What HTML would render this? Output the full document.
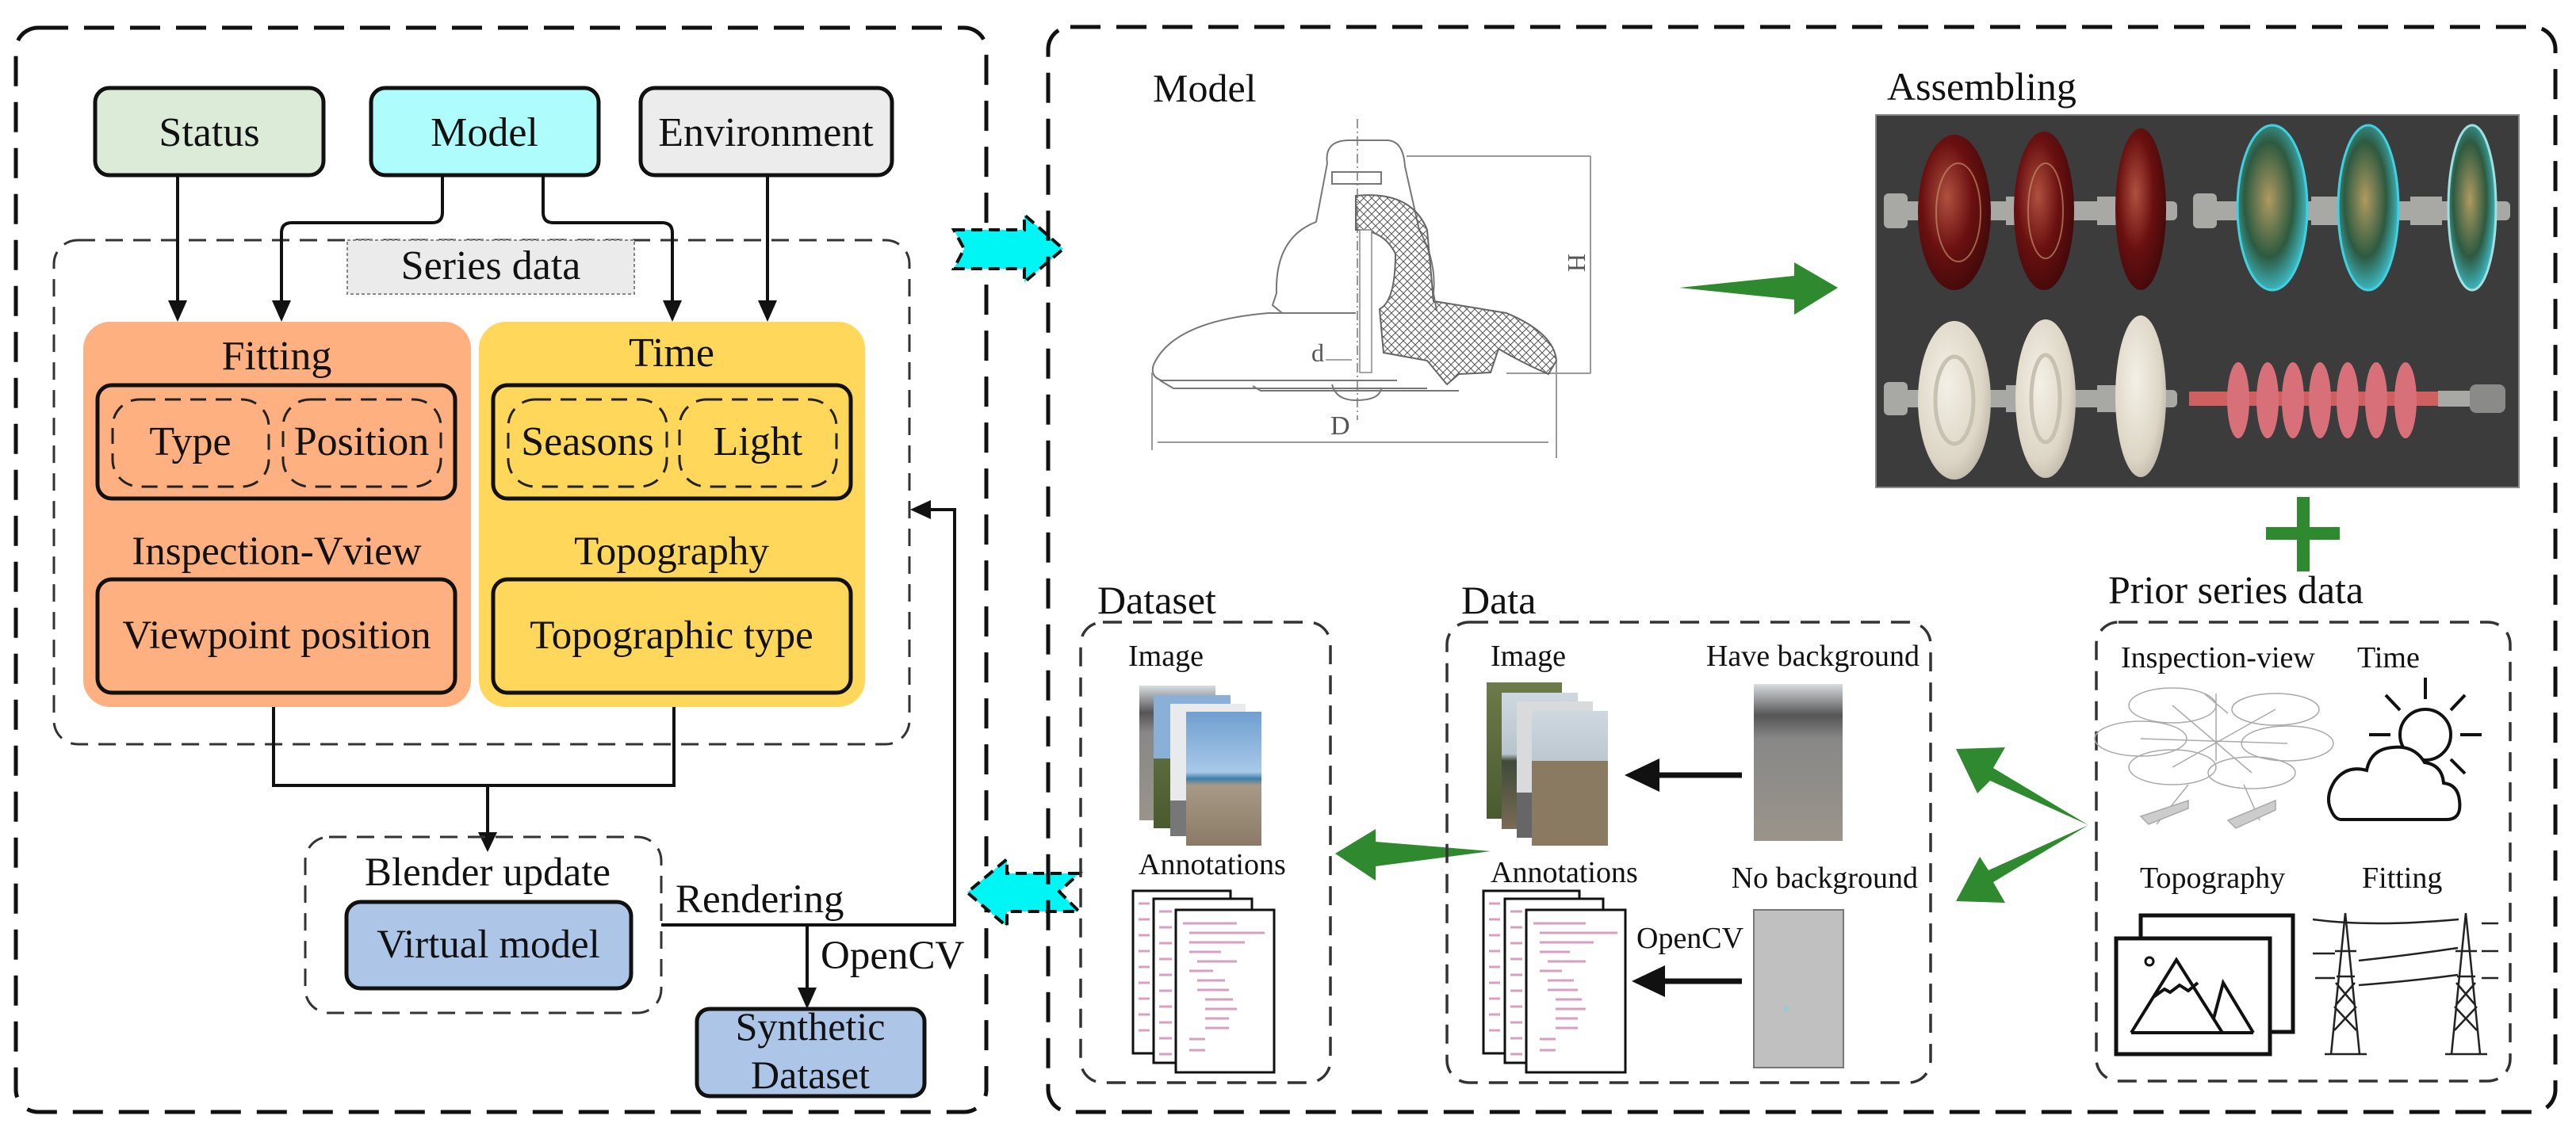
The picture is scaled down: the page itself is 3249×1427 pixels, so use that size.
<!DOCTYPE html>
<html><head><meta charset="utf-8"><style>
html,body{margin:0;padding:0;background:#fff}
svg{display:block}
svg text{font-family:"Liberation Serif","Times New Roman",Times,serif !important;fill:#111}
</style></head><body>
<svg width="3249" height="1427" viewBox="0 0 3249 1427" xmlns="http://www.w3.org/2000/svg" font-family="'Liberation Serif', 'Times New Roman', serif" style="font-family:'Liberation Serif','Times New Roman',serif">
<defs>
<linearGradient id="sky1" x1="0" y1="0" x2="0" y2="1"><stop offset="0" stop-color="#6f9fd0"/><stop offset="0.45" stop-color="#a8c8e8"/><stop offset="0.5" stop-color="#3b7fa8"/><stop offset="0.55" stop-color="#a89a86"/><stop offset="1" stop-color="#8a7a66"/></linearGradient>
<linearGradient id="sky2" x1="0" y1="0" x2="0" y2="1"><stop offset="0" stop-color="#cfd8e0"/><stop offset="0.45" stop-color="#b8c4cc"/><stop offset="0.5" stop-color="#3f4a3a"/><stop offset="1" stop-color="#7a6a55"/></linearGradient>
<linearGradient id="grass" x1="0" y1="0" x2="0" y2="1"><stop offset="0" stop-color="#6d7a4a"/><stop offset="1" stop-color="#4a5a30"/></linearGradient>
<linearGradient id="gravel" x1="0" y1="0" x2="0" y2="1"><stop offset="0" stop-color="#d8dde0"/><stop offset="0.2" stop-color="#555"/><stop offset="0.35" stop-color="#888"/><stop offset="1" stop-color="#9a948a"/></linearGradient>
<radialGradient id="red" cx="0.4" cy="0.4" r="0.7"><stop offset="0" stop-color="#b05040"/><stop offset="0.5" stop-color="#6a1010"/><stop offset="1" stop-color="#3a0808"/></radialGradient>
<radialGradient id="glass" cx="0.45" cy="0.45" r="0.7"><stop offset="0" stop-color="#b09a60"/><stop offset="0.5" stop-color="#2d5a40"/><stop offset="0.85" stop-color="#40c8d8"/><stop offset="1" stop-color="#205050"/></radialGradient>
<radialGradient id="white" cx="0.4" cy="0.4" r="0.7"><stop offset="0" stop-color="#f4f0e6"/><stop offset="0.7" stop-color="#ddd6c6"/><stop offset="1" stop-color="#b8b0a0"/></radialGradient>
<pattern id="hatch" width="10" height="10" patternUnits="userSpaceOnUse"><path d="M0,0 L10,10 M10,0 L0,10" stroke="#555" stroke-width="1"/></pattern>
</defs>

<!-- ============ LEFT PANEL ============ -->
<rect x="20" y="35" width="1224" height="1368" rx="28" fill="none" stroke="#111" stroke-width="5" stroke-dasharray="38 20"/>

<rect x="120" y="111" width="288" height="110" rx="18" fill="#dcebd8" stroke="#111" stroke-width="5"/>
<text x="264" y="184" font-size="52" text-anchor="middle">Status</text>
<rect x="468" y="111" width="287" height="110" rx="18" fill="#aefcfc" stroke="#111" stroke-width="5"/>
<text x="611" y="184" font-size="52" text-anchor="middle">Model</text>
<rect x="808" y="111" width="317" height="110" rx="18" fill="#ececec" stroke="#111" stroke-width="5"/>
<text x="966" y="184" font-size="52" text-anchor="middle">Environment</text>

<rect x="68" y="303" width="1079" height="636" rx="30" fill="none" stroke="#333" stroke-width="3" stroke-dasharray="22 13"/>
<rect x="438" y="303" width="362" height="68" fill="#ebebeb" stroke="#888" stroke-width="2" stroke-dasharray="4 3"/>
<text x="619" y="352" font-size="52" text-anchor="middle">Series data</text>

<g stroke="#111" stroke-width="4" fill="none">
<path d="M224,221 V385"/>
<path d="M558,221 V268 Q558,281 545,281 H368 Q355,281 355,294 V385"/>
<path d="M685,221 V268 Q685,281 698,281 H835 Q848,281 848,294 V385"/>
<path d="M968,221 V385"/>
</g>
<g fill="#111">
<polygon points="212,379 236,379 224,406"/>
<polygon points="343,379 367,379 355,406"/>
<polygon points="836,379 860,379 848,406"/>
<polygon points="956,379 980,379 968,406"/>
</g>

<rect x="105" y="406" width="489" height="486" rx="34" fill="#ffb080"/>
<text x="349" y="466" font-size="52" text-anchor="middle">Fitting</text>
<rect x="123" y="486" width="451" height="143" rx="18" fill="none" stroke="#111" stroke-width="5"/>
<rect x="142" y="504" width="197" height="110" rx="34" fill="none" stroke="#222" stroke-width="3" stroke-dasharray="20 12"/>
<rect x="357" y="504" width="199" height="110" rx="34" fill="none" stroke="#222" stroke-width="3" stroke-dasharray="20 12"/>
<text x="240" y="574" font-size="52" text-anchor="middle">Type</text>
<text x="456" y="574" font-size="52" text-anchor="middle">Position</text>
<text x="349" y="712" font-size="51" text-anchor="middle">Inspection-Vview</text>
<rect x="123" y="731" width="451" height="143" rx="18" fill="none" stroke="#111" stroke-width="5"/>
<text x="349" y="818" font-size="51" text-anchor="middle">Viewpoint position</text>

<rect x="604" y="406" width="487" height="486" rx="34" fill="#ffd75a"/>
<text x="847" y="462" font-size="52" text-anchor="middle">Time</text>
<rect x="622" y="486" width="451" height="143" rx="18" fill="none" stroke="#111" stroke-width="5"/>
<rect x="641" y="504" width="200" height="110" rx="34" fill="none" stroke="#222" stroke-width="3" stroke-dasharray="20 12"/>
<rect x="857" y="504" width="198" height="110" rx="34" fill="none" stroke="#222" stroke-width="3" stroke-dasharray="20 12"/>
<text x="741" y="574" font-size="52" text-anchor="middle">Seasons</text>
<text x="956" y="574" font-size="52" text-anchor="middle">Light</text>
<text x="847" y="712" font-size="51" text-anchor="middle">Topography</text>
<rect x="622" y="731" width="451" height="143" rx="18" fill="none" stroke="#111" stroke-width="5"/>
<text x="847" y="818" font-size="51" text-anchor="middle">Topographic type</text>

<path d="M345,892 V991 H850 V892" fill="none" stroke="#111" stroke-width="4"/>
<path d="M615,991 V1055" stroke="#111" stroke-width="4"/>
<polygon points="603,1050 627,1050 615,1075" fill="#111"/>

<rect x="385" y="1056" width="449" height="222" rx="30" fill="none" stroke="#333" stroke-width="3" stroke-dasharray="22 13"/>
<text x="615" y="1117" font-size="51" text-anchor="middle">Blender update</text>
<rect x="437" y="1138" width="359" height="109" rx="18" fill="#adc6e8" stroke="#111" stroke-width="5"/>
<text x="616" y="1208" font-size="51" text-anchor="middle">Virtual model</text>

<path d="M834,1167 H1204 V643 H1170" fill="none" stroke="#111" stroke-width="4"/>
<polygon points="1148,643 1174,631 1174,655" fill="#111"/>
<text x="852" y="1151" font-size="51">Rendering</text>
<path d="M1018,1167 V1250" stroke="#111" stroke-width="4"/>
<polygon points="1006,1246 1030,1246 1018,1273" fill="#111"/>
<text x="1035" y="1222" font-size="51">OpenCV</text>
<rect x="879" y="1273" width="287" height="110" rx="16" fill="#adc6e8" stroke="#111" stroke-width="5"/>
<text x="1022" y="1312" font-size="50" text-anchor="middle">Synthetic</text>
<text x="1022" y="1373" font-size="50" text-anchor="middle">Dataset</text>

<polygon points="1203,290 1292,290 1292,271 1341,314 1292,356 1292,339 1203,339 1216,314" fill="#00f5f5" stroke="#111" stroke-width="4" stroke-dasharray="14 8"/>
<polygon points="1361,1102 1270,1102 1270,1084 1220,1126 1270,1169 1270,1150 1361,1150 1336,1125" fill="#00f5f5" stroke="#111" stroke-width="4" stroke-dasharray="14 8"/>

<!-- ============ RIGHT PANEL ============ -->
<rect x="1322" y="34" width="1901" height="1369" rx="28" fill="none" stroke="#111" stroke-width="5" stroke-dasharray="38 20"/>

<text x="1454" y="128" font-size="50">Model</text>
<g fill="none" stroke="#777" stroke-width="2">
<path d="M1712,150 V530" stroke-dasharray="12 4 2 4" stroke="#999"/>
<path d="M1674,206 Q1670,178 1700,177 H1750 Q1770,178 1772,210 L1790,290 Q1812,330 1808,370 L1812,392"/>
<path d="M1674,206 L1660,280 Q1608,300 1610,370 L1605,385 L1617,395 H1710"/>
<path d="M1710,395 H1600 Q1480,405 1455,460 Q1450,475 1465,480 H1762"/>
<path d="M1463,480 L1480,490 H1800"/>
<path d="M1580,487 L1590,493 H1840"/>
<path d="M1680,485 Q1685,505 1710,505 Q1740,505 1742,490"/>
<path d="M1680,217 H1742 V232 H1680 Z"/>
<path d="M1774,197 H2006 M1900,471 H2006 M2006,197 V471" stroke="#999"/>
<path d="M1453,470 V568 M1963,455 V578 M1460,558 H1953" stroke="#999"/>
</g>
<path d="M1710,247 Q1780,240 1800,290 L1808,380 Q1840,385 1900,395 Q1960,420 1963,455 L1953,472 Q1920,458 1890,440 L1880,470 L1840,472 L1825,485 L1800,455 L1745,445 L1740,390 Q1760,380 1760,320 Q1745,290 1710,290 Z" fill="url(#hatch)" stroke="#666" stroke-width="2"/>
<path d="M1715,290 H1730 V470 H1715 Z" fill="#fff" stroke="#888" stroke-width="1.5"/>
<text x="1654" y="456" font-size="32" fill="#555" style="fill:#555">d</text>
<path d="M1672,454 H1705" stroke="#888" stroke-width="1.5"/>
<text x="1678" y="548" font-size="34" fill="#555" style="fill:#555">D</text>
<text x="1968" y="330" font-size="32" transform="rotate(90 1978 330)" style="fill:#555">H</text>

<polygon points="2118,363 2263,348 2263,331 2318,363 2263,397 2263,378" fill="#2f8a2f"/>

<text x="2380" y="126" font-size="50">Assembling</text>
<rect x="2366" y="145" width="811" height="470" fill="#3c3c3c" stroke="#888" stroke-width="2"/>
<g fill="#a8a8a4">
<rect x="2376" y="254" width="370" height="24" rx="6"/>
<rect x="2766" y="254" width="400" height="24" rx="6"/>
<rect x="2376" y="244" width="30" height="44" rx="6"/>
<rect x="2766" y="244" width="30" height="44" rx="6"/>
<rect x="2530" y="248" width="40" height="36"/><rect x="2645" y="248" width="40" height="36"/>
<rect x="2915" y="248" width="40" height="36"/><rect x="3040" y="248" width="40" height="36"/>
</g>
<ellipse cx="2465" cy="268" rx="46" ry="98" fill="url(#red)"/>
<ellipse cx="2578" cy="266" rx="38" ry="100" fill="url(#red)"/>
<ellipse cx="2700" cy="264" rx="32" ry="102" fill="url(#red)"/>
<ellipse cx="2866" cy="262" rx="44" ry="104" fill="url(#glass)" stroke="#40d0e0" stroke-width="3"/>
<ellipse cx="2987" cy="262" rx="38" ry="104" fill="url(#glass)" stroke="#40d0e0" stroke-width="3"/>
<ellipse cx="3118" cy="262" rx="30" ry="104" fill="url(#glass)" stroke="#a0e0e0" stroke-width="3"/>
<g fill="none" stroke="#c8a070" stroke-width="2" opacity="0.6">
<ellipse cx="2470" cy="268" rx="28" ry="62"/><ellipse cx="2580" cy="266" rx="22" ry="60"/>
</g>
<g fill="#a8a8a4">
<rect x="2376" y="492" width="370" height="22" rx="6"/>
<rect x="2376" y="482" width="30" height="42" rx="6"/>
<rect x="2530" y="486" width="40" height="34"/><rect x="2645" y="486" width="40" height="34"/>
<rect x="3075" y="493" width="40" height="20"/>
<rect x="3115" y="485" width="45" height="36" rx="8" fill="#8a8a88"/>
</g>
<ellipse cx="2465" cy="505" rx="46" ry="100" fill="url(#white)"/>
<ellipse cx="2465" cy="505" rx="24" ry="55" fill="none" stroke="#c8c0b0" stroke-width="5"/>
<ellipse cx="2580" cy="503" rx="38" ry="100" fill="url(#white)"/>
<ellipse cx="2580" cy="503" rx="18" ry="55" fill="none" stroke="#c8c0b0" stroke-width="5"/>
<ellipse cx="2700" cy="500" rx="32" ry="102" fill="url(#white)"/>
<rect x="2761" y="494" width="314" height="18" fill="#d06060"/>
<g fill="#d8707a">
<ellipse cx="2823" cy="505" rx="14" ry="48"/><ellipse cx="2860" cy="505" rx="14" ry="48"/>
<ellipse cx="2892" cy="505" rx="14" ry="48"/><ellipse cx="2926" cy="505" rx="14" ry="48"/>
<ellipse cx="2961" cy="505" rx="14" ry="48"/><ellipse cx="2997" cy="505" rx="14" ry="48"/>
<ellipse cx="3034" cy="505" rx="14" ry="48"/>
</g>

<rect x="2858" y="665" width="93" height="16" fill="#2f8a2f"/>
<rect x="2897" y="627" width="16" height="94" fill="#2f8a2f"/>

<text x="1384" y="774" font-size="50">Dataset</text>
<rect x="1363" y="785" width="315" height="581" rx="28" fill="none" stroke="#333" stroke-width="3.5" stroke-dasharray="24 14"/>
<text x="1423" y="840" font-size="38">Image</text>
<rect x="1437" y="865" width="96" height="170" fill="url(#gravel)"/>
<rect x="1455" y="877" width="97" height="168" fill="url(#grass)"/>
<rect x="1455" y="877" width="97" height="80" fill="#8ab0d8"/>
<rect x="1476" y="888" width="95" height="167" fill="#e8eaec"/>
<rect x="1476" y="1010" width="95" height="45" fill="#777"/>
<rect x="1496" y="898" width="95" height="169" fill="url(#sky1)"/>
<text x="1436" y="1103" font-size="38">Annotations</text>
<g stroke="#111" stroke-width="3" fill="#fff">
<rect x="1429" y="1124" width="123" height="205"/>
<rect x="1455" y="1134" width="124" height="207"/>
<rect x="1483" y="1148" width="124" height="205"/>
</g>
<g stroke="#d8a0c0" stroke-width="3">
<path d="M1492,1165 H1560 M1500,1177 H1595 M1500,1189 H1570 M1500,1201 H1540 M1510,1213 H1560 M1500,1225 H1530 M1510,1237 H1545 M1510,1249 H1550 M1520,1261 H1555 M1520,1273 H1560 M1520,1285 H1550 M1520,1297 H1550 M1500,1311 H1520 M1500,1325 H1520"/>
<path d="M1436,1140 H1450 M1436,1160 H1450 M1436,1180 H1450 M1436,1200 H1450 M1436,1220 H1450 M1436,1240 H1450 M1436,1260 H1450 M1436,1280 H1450 M1436,1300 H1450"/>
<path d="M1462,1150 H1478 M1462,1170 H1478 M1462,1190 H1478 M1462,1210 H1478 M1462,1230 H1478 M1462,1250 H1478 M1462,1270 H1478 M1462,1290 H1478 M1462,1310 H1478 M1462,1330 H1478"/>
</g>

<polygon points="1880,1074 1735,1062 1735,1046 1684,1077 1735,1111 1735,1093" fill="#2f8a2f"/>

<text x="1843" y="774" font-size="50">Data</text>
<rect x="1825" y="785" width="610" height="581" rx="28" fill="none" stroke="#333" stroke-width="3.5" stroke-dasharray="24 14"/>
<text x="1880" y="840" font-size="38">Image</text>
<rect x="1875" y="861" width="95" height="172" fill="url(#grass)"/>
<rect x="1894" y="874" width="96" height="172" fill="url(#sky2)"/>
<rect x="1913" y="885" width="96" height="172" fill="#d8dadc"/>
<rect x="1913" y="1000" width="96" height="57" fill="#666"/>
<rect x="1932" y="897" width="96" height="170" fill="url(#sky2)"/>
<rect x="1932" y="960" width="96" height="107" fill="#8a7a62"/>
<text x="2421" y="840" font-size="38" text-anchor="end">Have background</text>
<rect x="2212" y="863" width="112" height="198" fill="url(#gravel)"/>
<path d="M2197,978 H2080" stroke="#111" stroke-width="7"/>
<polygon points="2049,978 2093,957 2093,999" fill="#111"/>
<text x="1880" y="1113" font-size="38">Annotations</text>
<g stroke="#111" stroke-width="3" fill="#fff">
<rect x="1871" y="1124" width="121" height="205"/>
<rect x="1898" y="1134" width="124" height="207"/>
<rect x="1925" y="1148" width="125" height="205"/>
</g>
<g stroke="#d8a0c0" stroke-width="3">
<path d="M1934,1165 H2000 M1942,1177 H2040 M1942,1189 H2010 M1942,1201 H1980 M1952,1213 H2000 M1942,1225 H1970 M1952,1237 H1985 M1952,1249 H1990 M1962,1261 H1995 M1962,1273 H2000 M1962,1285 H1990 M1962,1297 H1990 M1942,1311 H1962 M1942,1325 H1962"/>
<path d="M1878,1140 H1892 M1878,1160 H1892 M1878,1180 H1892 M1878,1200 H1892 M1878,1220 H1892 M1878,1240 H1892 M1878,1260 H1892 M1878,1280 H1892 M1878,1300 H1892"/>
<path d="M1905,1150 H1920 M1905,1170 H1920 M1905,1190 H1920 M1905,1210 H1920 M1905,1230 H1920 M1905,1250 H1920 M1905,1270 H1920 M1905,1290 H1920 M1905,1310 H1920 M1905,1330 H1920"/>
</g>
<text x="2419" y="1120" font-size="38" text-anchor="end">No background</text>
<rect x="2212" y="1148" width="113" height="199" fill="#c0c0c0" stroke="#777" stroke-width="2"/>
<circle cx="2253" cy="1273" r="4" fill="#9cc"/>
<text x="2064" y="1196" font-size="38">OpenCV</text>
<path d="M2197,1238 H2090" stroke="#111" stroke-width="7"/>
<polygon points="2058,1238 2100,1218 2100,1258" fill="#111"/>

<polygon points="2634,1041 2510,985 2494,1001 2467,945 2529,943 2514,969" fill="#2f8a2f"/>
<polygon points="2634,1041 2514,1113 2529,1139 2467,1137 2497,1081 2508,1098" fill="#2f8a2f"/>

<text x="2659" y="761" font-size="50">Prior series data</text>
<rect x="2644" y="785" width="522" height="579" rx="28" fill="none" stroke="#333" stroke-width="3.5" stroke-dasharray="24 14"/>
<text x="2675" y="842" font-size="38">Inspection-view</text>
<text x="2973" y="842" font-size="38">Time</text>
<g fill="none" stroke="#aaa" stroke-width="1.5">
<ellipse cx="2740" cy="890" rx="55" ry="22"/><ellipse cx="2870" cy="895" rx="55" ry="20"/>
<ellipse cx="2700" cy="932" rx="58" ry="22"/><ellipse cx="2885" cy="938" rx="58" ry="22"/>
<ellipse cx="2740" cy="968" rx="55" ry="22"/><ellipse cx="2840" cy="975" rx="55" ry="20"/>
<path d="M2740,890 L2840,975 M2870,895 L2740,968 M2700,932 L2885,938"/>
<path d="M2795,875 V960 M2780,875 L2810,900 M2760,990 L2720,1040 M2830,990 L2850,1035"/>
<path d="M2700,1030 L2760,1010 L2760,1020 L2710,1040 Z M2810,1035 L2870,1010 L2870,1022 L2820,1045 Z" fill="#ccc"/>
</g>
<g fill="none" stroke="#111" stroke-width="4">
<circle cx="3059" cy="927" r="32"/>
<path d="M3059,855 V882 M3009,877 L3027,896 M3109,877 L3091,896 M2988,927 H3015 M3103,927 H3130 M3091,958 L3109,976"/>
</g>
<path d="M2953,1034 H3086 Q3105,1034 3102,1010 Q3100,990 3082,988 Q3080,965 3058,962 Q3045,940 3018,943 Q2990,945 2985,972 Q2960,965 2945,985 Q2932,1005 2940,1022 Q2945,1034 2953,1034 Z" fill="#fff" stroke="#111" stroke-width="4"/>
<text x="2699" y="1120" font-size="38">Topography</text>
<text x="2979" y="1120" font-size="38">Fitting</text>
<rect x="2700" y="1155" width="192" height="147" fill="#fff" stroke="#111" stroke-width="5"/>
<rect x="2669" y="1184" width="194" height="146" fill="#fff" stroke="#111" stroke-width="5"/>
<circle cx="2711" cy="1213" r="5" fill="none" stroke="#111" stroke-width="3"/>
<path d="M2688,1303 L2745,1211 L2803,1303 M2792,1285 L2804,1240 L2842,1303 M2688,1303 H2842 M2716,1258 L2730,1248 L2737,1252 L2749,1243 L2760,1250 L2772,1240" fill="none" stroke="#111" stroke-width="4"/>
<g fill="none" stroke="#222" stroke-width="2.5">
<path d="M2917,1160 Q2990,1170 3101,1160 M2917,1203 H2945 M2920,1234 H2945 M2975,1212 Q3040,1205 3100,1196 M2975,1243 Q3040,1238 3100,1230 M3130,1165 H3151 M3130,1200 H3151 M3130,1234 H3151"/>
<path d="M2958,1152 L2940,1330 M2958,1152 L2976,1330 M2932,1330 H2985 M2945,1200 H2972 M2947,1232 H2970 M2944,1270 L2972,1300 M2972,1270 L2944,1300 M2946,1240 L2970,1268 M2970,1240 L2946,1268"/>
<path d="M3110,1152 L3092,1330 M3110,1152 L3128,1330 M3084,1330 H3137 M3097,1200 H3124 M3099,1232 H3122 M3096,1270 L3124,1300 M3124,1270 L3096,1300 M3098,1240 L3122,1268 M3122,1240 L3098,1268"/>
</g>
</svg>
</body></html>
